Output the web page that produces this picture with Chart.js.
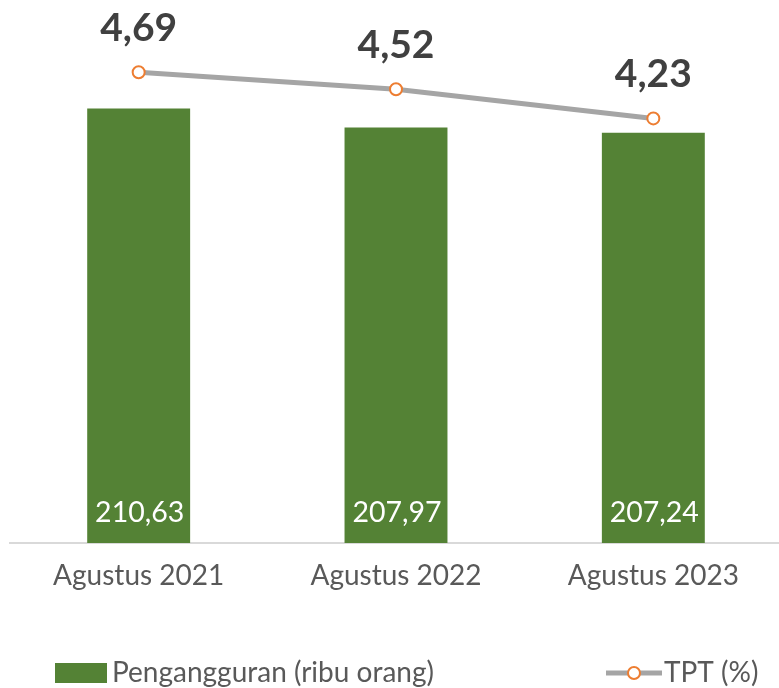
<!DOCTYPE html>
<html>
<head>
<meta charset="utf-8">
<script src="https://cdn.jsdelivr.net/npm/chart.js@4.4.0/dist/chart.umd.min.js"></script>
<style>
  html, body { margin: 0; padding: 0; background: #fff; overflow: hidden; }
  #wrap { width: 779px; height: 688px; overflow: hidden; }
</style>
</head>
<body>
<div id="wrap"><canvas id="myChart" width="790" height="688"></canvas></div>
<script>
// Data
const categories = ['Agustus 2021', 'Agustus 2022', 'Agustus 2023'];
const penganggur = [210.63, 207.97, 207.24];   // ribu orang
const tpt = [4.69, 4.52, 4.23];                // persen

const FONT = 'Lato, "Open Sans", sans-serif';
const fmt = v => v.toFixed(2).replace('.', ',');

// value labels + legend (no datalabels plugin available offline)
const labelPlugin = {
    id: 'labels',
    afterDatasetsDraw(chart) {
        const ctx = chart.ctx;
        const bottom = chart.chartArea.bottom;
        ctx.save();
        ctx.textAlign = 'center';
        ctx.textBaseline = 'middle';

        const barMeta = chart.getDatasetMeta(0);
        ctx.fillStyle = '#ffffff';
        ctx.font = '28.5px ' + FONT;
        barMeta.data.forEach((el, i) => {
            ctx.fillText(fmt(penganggur[i]), el.x + 1, bottom - 30);
        });

        const lineMeta = chart.getDatasetMeta(1);
        ctx.fillStyle = '#404040';
        ctx.font = 'bold 39px ' + FONT;
        lineMeta.data.forEach((el, i) => {
            ctx.fillText(fmt(tpt[i]), el.x, el.y - 44);
        });
        ctx.restore();
    },
    afterDraw(chart) {
        const ctx = chart.ctx;
        ctx.save();
        ctx.textBaseline = 'middle';
        ctx.textAlign = 'left';
        ctx.font = '28px ' + FONT;
        ctx.fillStyle = '#548235';
        ctx.fillRect(55, 663, 52, 20);
        ctx.fillStyle = '#595959';
        ctx.fillText('Pengangguran (ribu orang)', 112, 673);

        ctx.strokeStyle = '#a5a5a5';
        ctx.lineWidth = 5;
        ctx.beginPath();
        ctx.moveTo(606, 673);
        ctx.lineTo(662, 673);
        ctx.stroke();
        ctx.beginPath();
        ctx.arc(634, 673, 6, 0, Math.PI * 2);
        ctx.fillStyle = '#ffffff';
        ctx.fill();
        ctx.lineWidth = 2;
        ctx.strokeStyle = '#ed7d31';
        ctx.stroke();
        ctx.fillStyle = '#595959';
        ctx.fillText('TPT (%)', 664, 673);
        ctx.restore();
    }
};

const ctx = document.getElementById('myChart').getContext('2d');
const myChart = new Chart(ctx, {
    type: 'bar',
    data: {
        labels: categories,
        datasets: [{
            label: 'Pengangguran (ribu orang)',
            data: penganggur,
            backgroundColor: '#548235',
            yAxisID: 'y',
            barPercentage: 0.4,
            categoryPercentage: 1,
            order: 2,
        }, {
            type: 'line',
            label: 'TPT (%)',
            data: tpt,
            borderColor: '#a5a5a5',
            borderWidth: 5,
            pointRadius: 6,
            pointBorderWidth: 2,
            pointBorderColor: '#ed7d31',
            pointBackgroundColor: '#ffffff',
            yAxisID: 'y2',
            order: 1,
        }],
    },
    options: {
        responsive: false,
        animation: false,
        layout: { padding: { left: 10, right: 0, top: 5, bottom: 0 } },
        plugins: { legend: { display: false }, tooltip: { enabled: false } },
        scales: {
            x: {
                grid: { display: false, drawTicks: false },
                border: { display: true, color: '#d9d9d9', width: 2 },
                ticks: { color: '#595959', font: { family: FONT, size: 28 }, padding: 16 },
                afterFit(scale) { scale.height = 145; },
            },
            y: { display: false, min: 150, max: 224.65 },
            y2: { display: false, min: 0, max: 5.33, position: 'right' },
        },
    },
    plugins: [labelPlugin],
});
</script>
</body>
</html>
